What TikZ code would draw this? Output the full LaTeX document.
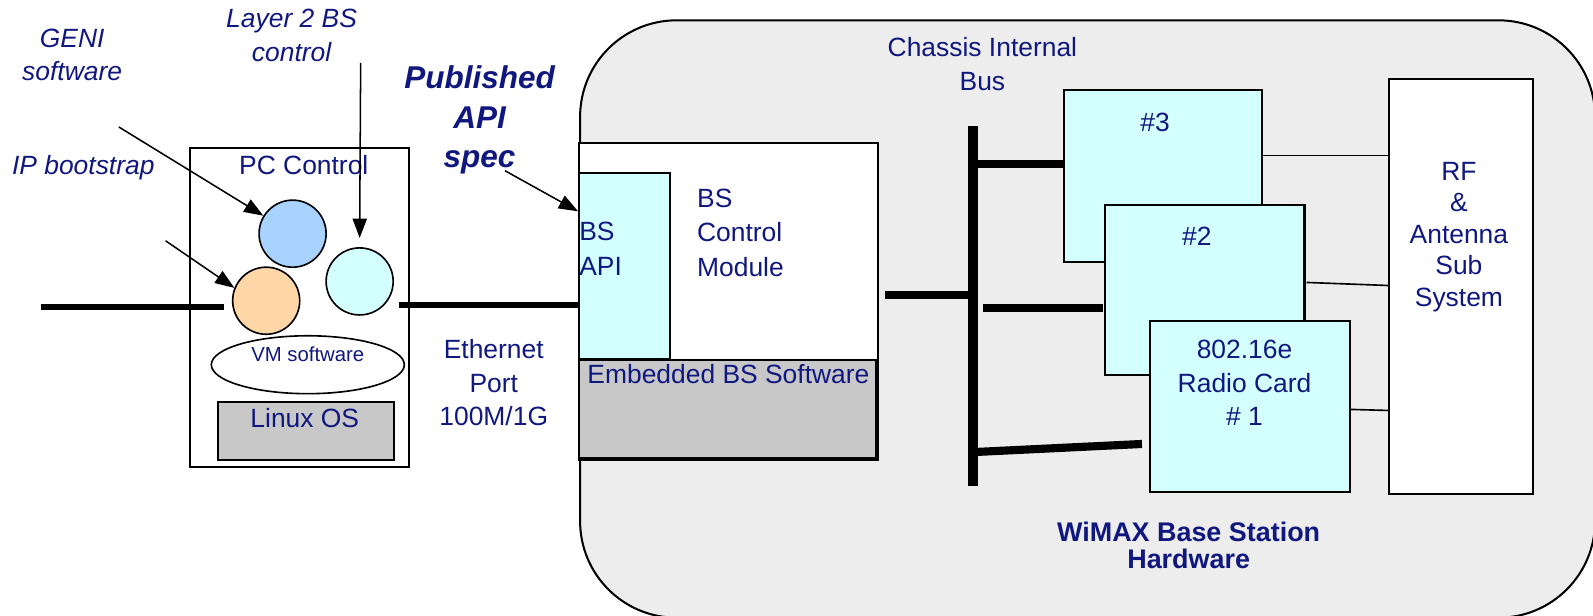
\documentclass[tikz,border=0pt]{standalone}
\usepackage{fontspec}
\setmainfont{Liberation Sans}
\usetikzlibrary{arrows.meta,shapes.geometric}
\definecolor{navytext}{RGB}{16,24,128}
\definecolor{chassis}{RGB}{237,237,237}
\definecolor{cardcyan}{RGB}{212,255,255}
\definecolor{swgray}{RGB}{200,200,200}
\definecolor{vmblue}{RGB}{168,210,255}
\definecolor{peach}{RGB}{255,214,166}

\begin{document}
\begin{tikzpicture}[x=1pt,y=-1pt,
  lbl/.style={text=navytext,font=\fontsize{26}{33}\selectfont,align=center,inner sep=0pt},
  ilbl/.style={lbl,font=\fontsize{26}{33}\selectfont\itshape},
  blbl/.style={lbl,font=\fontsize{31}{39}\selectfont\bfseries\itshape},
  hwlbl/.style={lbl,font=\fontsize{26.5}{26}\selectfont\bfseries},
  smalllbl/.style={lbl,font=\fontsize{20}{24}\selectfont},
  box/.style={draw=black,line width=2pt,inner sep=0pt,anchor=north west},
  vmcircle/.style={circle,draw=black,line width=1.6pt,inner sep=0pt,minimum size=66pt},
  bus/.style={line width=8pt},
  busmain/.style={line width=10pt},
  wire/.style={line width=1.6pt},
  pointer/.style={line width=1.5pt,-{Triangle[length=19pt,width=14pt]}},
]
\useasboundingbox (0,0) rectangle (1568,606);

% chassis outline of the base station
\draw[draw=black,line width=2pt,fill=chassis,rounded corners=95pt]
  (571,20) rectangle (1570,608);

% ---------------- PC control side ----------------
\node[box,fill=white,minimum width=216pt,minimum height=314pt] (pc) at (186,145) {};
\node[lbl] (pcTxt) at (299,162) {PC Control};
\node[vmcircle,fill=vmblue] (geniVM) at (288,230) {};
\node[vmcircle,fill=cardcyan] (l2VM) at (354,277) {};
\node[vmcircle,fill=peach] (ipVM) at (262,296) {};
\node[ellipse,draw=black,line width=1.6pt,fill=white,minimum width=190pt,minimum height=57pt] (vm) at (303,359) {};
\node[smalllbl] (vmTxt) at (303,349) {VM software};
\node[box,fill=swgray,minimum width=173pt,minimum height=57pt] (linux) at (214,395) {};
\node[lbl] (linuxTxt) at (300,411) {Linux OS};

% labels with pointers
\node[ilbl] (geniTxt) at (71,54) {GENI\\software};
\node[ilbl] (l2Txt) at (287,35) {Layer 2 BS\\control};
\node[ilbl] (ipTxt) at (82,165) {IP bootstrap};
\node[blbl] (pubTxt) at (472,118) {Published\\API\\spec};
\node[lbl] (ethTxt) at (486,377) {Ethernet\\Port\\100M/1G};

% ---------------- BS control module ----------------
\node[box,fill=white,minimum width=294pt,minimum height=312pt] (bsmod) at (569,140) {};
\node[box,fill=cardcyan,minimum width=89pt,minimum height=183pt] (bsapi) at (569,169) {};
\node[lbl,align=left,anchor=west,font=\fontsize{26}{34}\selectfont] (bsapiTxt) at (570,245) {BS\\API};
\node[lbl,align=left,anchor=west,font=\fontsize{26}{34}\selectfont] (bsctlTxt) at (686,229) {BS\\Control\\Module};
\node[box,fill=swgray,minimum width=292pt,minimum height=97pt] (embsw) at (569,353) {};
\node[lbl] (embTxt) at (717,368) {Embedded BS Software};

% ---------------- chassis bus and radio cards ----------------
\node[lbl] (busTxt) at (967,63) {Chassis Internal\\Bus};
\coordinate (busTop) at (958,124);
\coordinate (busBot) at (958,478);
\draw[busmain] (busTop) -- (busBot);

\node[box,fill=cardcyan,minimum width=195pt,minimum height=169pt] (card3) at (1046,88) {};
\node[box,fill=cardcyan,minimum width=196pt,minimum height=167pt] (card2) at (1087,201) {};
\node[box,fill=cardcyan,minimum width=197pt,minimum height=168pt] (card1) at (1131,315) {};
\node[lbl] (c3Txt) at (1137,120) {\#3};
\node[lbl] (c2Txt) at (1178,233) {\#2};
\node[lbl] (c1Txt) at (1225,377) {802.16e\\Radio Card\\\# 1};

\node[box,fill=white,minimum width=142pt,minimum height=408pt] (rf) at (1366,77) {};
\node[lbl,font=\fontsize{26}{31}\selectfont] (rfTxt) at (1436,233) {RF\\\&\\Antenna\\Sub\\System};

\node[hwlbl] (hwTxt) at (1170,537) {WiMAX Base Station\\Hardware};

% ---------------- pointers ----------------
\coordinate (geniFrom) at (117,125);
\coordinate (l2From) at (355,62);
\coordinate (ipFrom) at (163,237);
\coordinate (pubFrom) at (497,168);
\draw[pointer] (geniFrom) -- (geniVM);
\draw[pointer] (l2From) -- ([yshift=9pt]l2VM.north);
\draw[pointer] (ipFrom) -- (ipVM.158);
\draw[pointer] (pubFrom) -- ([yshift=-39pt]bsapi.north west);

% ---------------- ethernet links ----------------
\coordinate (ethIn) at (40,302);
\coordinate (ethInEnd) at (220,302);
\coordinate (ethOut) at (393,300);
\draw[line width=6pt] (ethIn) -- (ethInEnd);
\draw[line width=6pt] (ethOut) -- (bsapi.west |- ethOut);

% ---------------- bus taps ----------------
\coordinate (modTap) at (871,290);
\coordinate (tap2) at (968,303);
\coordinate (tap1) at (958,445);
\coordinate (tap1End) at (1124,437);
\draw[bus] (modTap) -- (busTop |- modTap);
\draw[bus] (busTop |- 0,161) -- (card3.west |- 0,161);
\draw[bus] (tap2) -- (1086,303);
\draw[bus] (tap1) -- (tap1End);

% ---------------- RF feeds ----------------
\coordinate (rf3) at (1243,153);
\coordinate (rf2) at (1286,278);
\coordinate (rf1) at (1330,403);
\draw[wire] (rf3) -- (rf.west |- rf3);
\draw[wire] (rf2) -- ([yshift=-3pt]rf.west |- rf2);
\draw[wire] (rf1) -- ([yshift=-1pt]rf.west |- rf1);
\end{tikzpicture}
\end{document}
